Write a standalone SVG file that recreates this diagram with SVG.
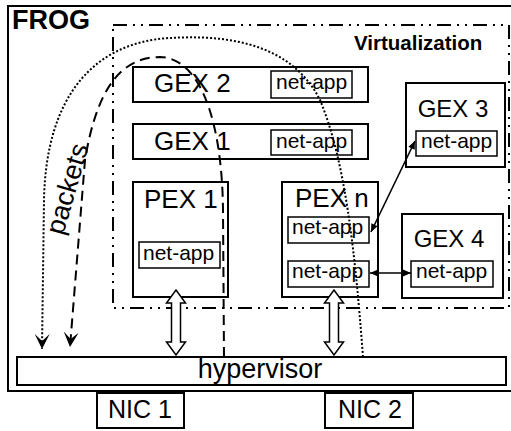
<svg xmlns="http://www.w3.org/2000/svg" width="511" height="431" viewBox="0 0 511 431">
<defs>
<style>
text{font-family:"Liberation Sans",Arial,sans-serif;fill:#000}
.box{fill:#fff;stroke:#000;stroke-width:2}
.nb{fill:#fff;stroke:#000;stroke-width:1.5}
.lbl{font-size:26px}
.na{font-size:21px}
.virt{fill:none;stroke:#000;stroke-width:2;stroke-dasharray:14 6 2 6 2 6}
.dot{fill:none;stroke:#000;stroke-width:2;stroke-dasharray:2 2}
.dash{fill:none;stroke:#000;stroke-width:2;stroke-dasharray:10 6}
.thin{fill:none;stroke:#000;stroke-width:1.6}
.blk{fill:#fff;stroke:#000;stroke-width:1.5}
</style>
<marker id="stealth" viewBox="-16 -9 18 18" refX="0" refY="0" markerWidth="18" markerHeight="18" markerUnits="userSpaceOnUse" orient="auto">
<path d="M0,0 L-15,-7.5 L-8,0 L-15,7.5 Z" fill="#000" stroke="none"/>
</marker>
<marker id="tri" viewBox="-9 -5 10 10" refX="0" refY="0" markerWidth="10" markerHeight="10" markerUnits="userSpaceOnUse" orient="auto-start-reverse">
<path d="M0,0 L-8,-3.5 L-8,3.5 Z" fill="#000" stroke="none"/>
</marker>
<path id="barrow" d="M0,0 L9.5,13 L4.5,13 L4.5,52 L9.5,52 L0,65 L-9.5,52 L-4.5,52 L-4.5,13 L-9.5,13 Z"/>
</defs>
<rect x="0" y="0" width="511" height="431" fill="#fff"/>

<g id="frog">
<rect x="8" y="6" width="512" height="385" fill="none" stroke="#000" stroke-width="2"/>
<text x="12" y="29" font-size="27" font-weight="bold">FROG</text>
</g>

<g id="virtualization">
<rect x="113" y="25" width="396" height="283" class="virt"/>
<text x="354" y="50" font-size="20.5" font-weight="bold">Virtualization</text>
</g>

<g id="gex2">
<rect x="133" y="67" width="235" height="35" class="box"/>
<text x="154" y="92" class="lbl">GEX 2</text>
<rect x="271" y="71" width="81" height="27" class="nb"/>
<text x="276" y="89" class="na">net-app</text>
</g>

<g id="gex1">
<rect x="133" y="124" width="235" height="35" class="box"/>
<text x="154" y="150" class="lbl">GEX 1</text>
<rect x="271" y="130" width="81" height="25" class="nb"/>
<text x="276" y="148" class="na">net-app</text>
</g>

<g id="pex1">
<rect x="133" y="182" width="95" height="115" class="box"/>
<text x="144" y="208" class="lbl">PEX 1</text>
<rect x="139" y="242" width="81" height="26" class="nb"/>
<text x="143" y="260" class="na">net-app</text>
</g>

<g id="pexn">
<rect x="282" y="182" width="96" height="115" class="box"/>
<text x="295" y="207" class="lbl">PEX n</text>
<rect x="288" y="217" width="81" height="26" class="nb"/>
<text x="292" y="234" class="na">net-app</text>
<rect x="288" y="261" width="81" height="26" class="nb"/>
<text x="292" y="278" class="na">net-app</text>
</g>

<g id="gex3">
<rect x="406" y="83" width="99" height="84" class="box"/>
<text x="453" y="117" class="lbl" font-size="24" text-anchor="middle" style="font-size:24px">GEX 3</text>
<rect x="416" y="131" width="81" height="25" class="nb"/>
<text x="421" y="148" class="na">net-app</text>
</g>

<g id="gex4">
<rect x="402" y="214" width="101" height="84" class="box"/>
<text x="449" y="247" class="lbl" text-anchor="middle" style="font-size:24px">GEX 4</text>
<rect x="411" y="261" width="82" height="26" class="nb"/>
<text x="416" y="278" class="na">net-app</text>
</g>

<g id="hypervisor">
<rect x="17" y="357" width="489" height="28" class="box"/>
<text x="260" y="378" font-size="27" text-anchor="middle">hypervisor</text>
</g>

<g id="nic1">
<rect x="97" y="393" width="87" height="35" class="box"/>
<text x="140" y="418" font-size="25" text-anchor="middle">NIC 1</text>
</g>

<g id="nic2">
<rect x="325" y="393" width="88" height="35" class="box"/>
<text x="370" y="418" font-size="25" text-anchor="middle">NIC 2</text>
</g>

<g id="connectors">
<use href="#barrow" x="176" y="290" class="blk"/>
<use href="#barrow" x="334" y="290" class="blk"/>
<line x1="371" y1="232" x2="415" y2="141" class="thin" marker-start="url(#tri)" marker-end="url(#tri)"/>
<line x1="370" y1="273" x2="411" y2="273" class="thin" marker-start="url(#tri)" marker-end="url(#tri)"/>
<path d="M363,357 C355,250 345,160 320,100 C290,40 220,35 170,38 C95,42 46,95 44,200 L42,349" class="dot" marker-end="url(#stealth)"/>
<path d="M224,357 L223,210 C222,120 200,58 160,57 C115,57 95,100 85,160 L70,347" class="dash" marker-end="url(#stealth)"/>
<text x="63" y="236" font-size="27" transform="rotate(-74 63 236)">packets</text>
</g>
</svg>
